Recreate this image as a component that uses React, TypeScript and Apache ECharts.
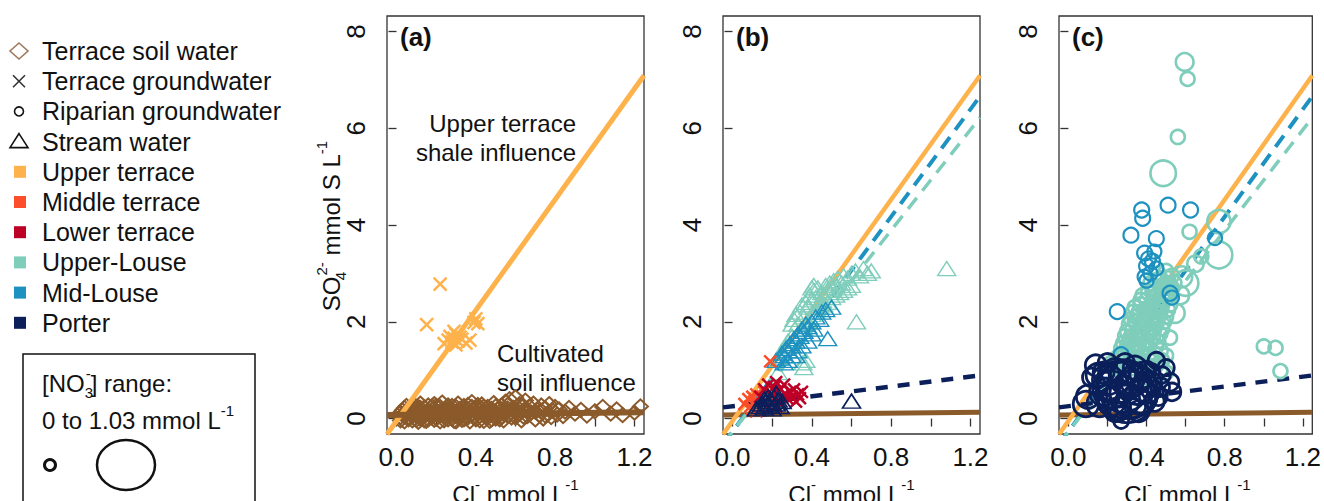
import React, { useEffect, useRef } from 'react';
import * as echarts from 'echarts';

const FONT = 'Liberation Sans, Arial, Helvetica, sans-serif';

// ---- axes ----
const xTickValues = [0, 0.2, 0.4, 0.6, 0.8, 1.0, 1.2];
const xLabelValues = [0, 0.4, 0.8, 1.2];
const yTickValues = [0, 2, 4, 6, 8];
const xRange = [-0.048, 1.248];
const yRange = [-0.32, 8.32];
const panelLabels = ['(a)', '(b)', '(c)'];

// ---- colours ----
const C_SOIL = '#8B5A2B';
const C_UPPER_T = '#FEB24C';
const C_MIDDLE_T = '#FC4E2A';
const C_LOWER_T = '#BD0026';
const C_UPPER_L = '#7FCDBB';
const C_MID_L = '#1D91C0';
const C_PORTER = '#0B1F5A';

// ---- legend ----
const legendLabels = [
  'Terrace soil water',
  'Terrace groundwater',
  'Riparian groundwater',
  'Stream water',
  'Upper terrace',
  'Middle terrace',
  'Lower terrace',
  'Upper-Louse',
  'Mid-Louse',
  'Porter',
];
const legendSymbols = ['diamond', 'cross', 'circle', 'triangle', 'square', 'square', 'square', 'square', 'square', 'square'];
const legendColors = ['#A07A5E', '#333333', '#111111', '#111111', C_UPPER_T, C_MIDDLE_T, C_LOWER_T, C_UPPER_L, C_MID_L, C_PORTER];

// ---- panel (a) data ----
const terraceSoilWater: [number, number][] = [
  [0.02, 0.03], [0.03, 0.17], [0.04, -0.06], [0.05, 0.1], [0.05, 0.26], [0.06, 0.01], [0.07, 0.19], [0.08, -0.04],
  [0.08, 0.12], [0.09, 0.28], [0.1, 0.05], [0.1, 0.2], [0.11, -0.07], [0.12, 0.14], [0.12, 0.31], [0.13, 0.02],
  [0.14, 0.23], [0.15, -0.05], [0.15, 0.11], [0.16, 0.27], [0.17, 0.06], [0.18, 0.18], [0.19, -0.03], [0.19, 0.3],
  [0.2, 0.09], [0.21, 0.22], [0.22, -0.06], [0.23, 0.13], [0.23, 0.33], [0.24, 0.03], [0.25, 0.2], [0.26, -0.02],
  [0.26, 0.27], [0.27, 0.1], [0.28, 0.16], [0.29, -0.05], [0.3, 0.24], [0.3, 0.05], [0.31, 0.31], [0.32, 0.12],
  [0.33, -0.03], [0.34, 0.2], [0.35, 0.07], [0.36, 0.28], [0.37, -0.06], [0.37, 0.14], [0.38, 0.34], [0.39, 0.02],
  [0.4, 0.22], [0.41, 0.1], [0.42, -0.04], [0.43, 0.29], [0.44, 0.16], [0.45, 0.04], [0.46, 0.24], [0.47, -0.05],
  [0.48, 0.12], [0.49, 0.32], [0.5, 0.06], [0.51, 0.19], [0.52, -0.02], [0.53, 0.27], [0.54, 0.1], [0.55, 0.35],
  [0.56, 0.15], [0.57, 0.4], [0.58, 0.02], [0.59, 0.22], [0.6, 0.44], [0.61, 0.08], [0.62, 0.3], [0.63, -0.04],
  [0.64, 0.17], [0.65, 0.37], [0.66, 0.05], [0.67, 0.25], [0.68, 0.12], [0.69, 0.31], [0.7, -0.02], [0.71, 0.18],
  [0.72, 0.07], [0.73, 0.27], [0.74, 0.0], [0.75, 0.21], [0.76, 0.1], [0.77, 0.3], [0.78, 0.03], [0.79, 0.16],
  [0.8, 0.24], [0.81, 0.08], [0.82, 0.19], [0.84, 0.05], [0.85, 0.14], [0.87, 0.22], [0.9, 0.1], [0.93, 0.18],
  [0.96, 0.06], [1.0, 0.15], [1.04, 0.24], [1.08, 0.1], [1.11, 0.19], [1.14, 0.07], [1.2, 0.12], [1.23, 0.25],
  [0.03, 0.08], [0.06, 0.14], [0.09, 0.0], [0.11, 0.24], [0.13, 0.09], [0.16, 0.16], [0.18, 0.04], [0.2, 0.26],
  [0.22, 0.15], [0.24, 0.09], [0.27, 0.22], [0.29, 0.13], [0.32, 0.02], [0.34, 0.26], [0.36, 0.1], [0.39, 0.17],
  [0.41, 0.28], [0.44, 0.07], [0.47, 0.18], [0.5, 0.25], [0.53, 0.04], [0.56, 0.21], [0.6, 0.13], [0.64, 0.26],
  [0.7, 0.14], [0.75, 0.06],
  [0.02, 0.12], [0.02, -0.04], [0.04, 0.22], [0.04, 0.04], [0.06, -0.02], [0.06, 0.2], [0.08, 0.06], [0.08, 0.24],
  [0.1, -0.03], [0.1, 0.13], [0.12, 0.0], [0.12, 0.22], [0.14, 0.06], [0.14, -0.04], [0.16, 0.09], [0.16, -0.02],
  [0.18, 0.12], [0.18, 0.25], [0.2, 0.0], [0.2, 0.16], [0.22, 0.07], [0.22, 0.24], [0.24, -0.04], [0.24, 0.17],
  [0.26, 0.06], [0.26, 0.14], [0.28, 0.0], [0.28, 0.26], [0.3, 0.12], [0.3, -0.06], [0.32, 0.2], [0.32, 0.08],
  [0.34, -0.02], [0.34, 0.12], [0.36, 0.2], [0.36, 0.02], [0.38, 0.08], [0.38, 0.24], [0.4, -0.02], [0.4, 0.12],
  [0.42, 0.18], [0.42, 0.05], [0.44, 0.24], [0.44, -0.05], [0.46, 0.1], [0.46, 0.02], [0.48, 0.2], [0.48, -0.02],
  [0.5, 0.12], [0.5, 0.0], [0.52, 0.08], [0.52, 0.22], [0.54, 0.16], [0.54, -0.04], [0.56, 0.06], [0.56, 0.28],
  [0.58, 0.12], [0.6, 0.02], [0.6, 0.2], [0.62, 0.1], [0.64, 0.04], [0.66, 0.16],
];
const upperTerraceGroundwater: [number, number][] = [
  [0.152, 1.94], [0.22, 2.78], [0.24, 1.55], [0.26, 1.62], [0.27, 1.7], [0.28, 1.58], [0.29, 1.66], [0.3, 1.74],
  [0.31, 1.6], [0.32, 1.68], [0.33, 1.64], [0.35, 1.56], [0.37, 1.62], [0.39, 1.98], [0.4, 2.06], [0.41, 1.96],
  [0.3, 1.52], [0.29, 1.8],
];

// ---- panel (b) data ----
const upperLouseStream: [number, number][] = [
  [0.23, 0.95], [0.3, 1.95], [0.31, 2.05], [0.32, 2.15], [0.33, 1.95], [0.34, 2.2], [0.35, 2.35], [0.36, 2.1],
  [0.37, 2.4], [0.38, 2.3], [0.39, 2.55], [0.4, 2.45], [0.41, 2.65], [0.42, 2.5], [0.43, 2.7], [0.44, 2.4],
  [0.45, 2.6], [0.46, 2.55], [0.47, 2.75], [0.48, 2.65], [0.49, 2.8], [0.5, 2.7], [0.51, 2.85], [0.52, 2.75],
  [0.53, 2.9], [0.55, 2.8], [0.56, 2.95], [0.58, 2.9], [0.6, 3.0], [0.62, 3.05], [0.64, 2.95], [0.66, 3.1],
  [0.68, 3.0], [0.7, 3.05], [0.36, 1.85], [0.38, 2.0], [0.4, 2.15], [0.42, 2.2], [0.44, 2.3], [0.46, 2.35],
  [0.48, 2.4], [0.5, 2.5], [0.52, 2.55], [0.54, 2.6], [0.56, 2.65], [0.58, 2.7], [0.6, 2.75], [0.28, 1.6],
  [0.3, 1.7], [0.25, 1.4], [0.27, 1.5], [0.4, 2.7], [0.41, 2.75], [1.08, 3.1], [0.625, 2.0], [0.355, 1.15],
  [0.36, 1.05], [0.37, 1.2],
];
const midLouseStream: [number, number][] = [
  [0.22, 1.2], [0.24, 1.25], [0.25, 1.35], [0.26, 1.3], [0.27, 1.45], [0.28, 1.4], [0.29, 1.55], [0.3, 1.5],
  [0.31, 1.65], [0.32, 1.6], [0.33, 1.75], [0.34, 1.7], [0.35, 1.85], [0.36, 1.8], [0.37, 1.95], [0.38, 1.9],
  [0.4, 2.0], [0.41, 1.85], [0.42, 2.1], [0.44, 2.05], [0.45, 2.2], [0.47, 2.25], [0.3, 1.3], [0.33, 1.4],
  [0.35, 1.5], [0.38, 1.6], [0.4, 1.75], [0.26, 1.15], [0.48, 1.65], [0.5, 2.3], [0.28, 1.2], [0.32, 1.3],
];
const porterStream: [number, number][] = [
  [0.12, 0.2], [0.14, 0.25], [0.15, 0.3], [0.16, 0.22], [0.17, 0.35], [0.18, 0.28], [0.19, 0.4], [0.2, 0.32],
  [0.21, 0.45], [0.22, 0.3], [0.23, 0.38], [0.24, 0.25], [0.2, 0.2], [0.18, 0.45], [0.25, 0.35], [0.6, 0.36],
  [0.22, 0.52], [0.16, 0.4],
];
const middleTerraceGroundwater: [number, number][] = [
  [0.06, 0.3], [0.08, 0.4], [0.09, 0.25], [0.1, 0.45], [0.11, 0.35], [0.12, 0.5], [0.13, 0.3], [0.14, 0.22],
  [0.15, 0.42], [0.16, 0.55], [0.17, 0.3], [0.19, 1.18], [0.1, 0.2], [0.12, 0.15],
];
const lowerTerraceGroundwater: [number, number][] = [
  [0.16, 0.6], [0.18, 0.7], [0.2, 0.5], [0.21, 0.65], [0.22, 0.75], [0.23, 0.55], [0.24, 0.6], [0.25, 0.45],
  [0.26, 0.7], [0.27, 0.5], [0.28, 0.4], [0.29, 0.55], [0.3, 0.45], [0.31, 0.6], [0.32, 0.35], [0.33, 0.5],
  [0.34, 0.42], [0.35, 0.55], [0.2, 0.35], [0.24, 0.3], [0.14, 0.45], [0.22, 0.25],
];

// ---- panel (c) data: [Cl, SO4, NO3] ----
const upperLouseRiparian: [number, number, number][] = [
  [0.595, 7.37, 0.08], [0.61, 7.02, 0.0], [0.56, 5.82, 0.0], [0.485, 5.07, 0.25], [0.62, 3.86, 0.0],
  [0.77, 4.07, 0.2], [0.77, 3.38, 0.28], [0.68, 3.35, 0.0], [0.58, 2.93, 0.15], [0.6, 2.8, 0.25],
  [0.545, 2.18, 0.12], [0.52, 1.67, 0.0], [1.0, 1.49, 0.0], [1.06, 1.46, 0.0], [1.085, 0.98, 0.0],
  [0.57, 2.55, 0.1], [0.65, 3.2, 0.05],
  [0.24, 1.05, 0.0], [0.27, 1.0, 0.02], [0.3, 1.1, 0.0], [0.33, 1.05, 0.02], [0.36, 1.15, 0.0], [0.39, 1.1, 0.0],
  [0.42, 1.2, 0.02], [0.45, 1.1, 0.0], [0.26, 1.3, 0.0], [0.29, 1.35, 0.02], [0.32, 1.25, 0.0], [0.35, 1.4, 0.0],
  [0.38, 1.3, 0.02], [0.41, 1.45, 0.0], [0.44, 1.35, 0.0], [0.47, 1.4, 0.02], [0.28, 1.55, 0.0], [0.31, 1.6, 0.0],
  [0.34, 1.5, 0.02], [0.37, 1.65, 0.0], [0.4, 1.55, 0.0], [0.43, 1.7, 0.02], [0.46, 1.6, 0.0], [0.3, 1.8, 0.0],
  [0.33, 1.85, 0.02], [0.36, 1.75, 0.0], [0.39, 1.9, 0.0], [0.42, 1.8, 0.02], [0.45, 1.95, 0.0], [0.48, 1.85, 0.0],
  [0.32, 2.05, 0.0], [0.35, 2.1, 0.02], [0.38, 2.0, 0.0], [0.41, 2.15, 0.0], [0.44, 2.05, 0.02], [0.47, 2.2, 0.0],
  [0.5, 2.1, 0.0], [0.34, 2.3, 0.0], [0.37, 2.35, 0.02], [0.4, 2.25, 0.0], [0.43, 2.4, 0.0], [0.46, 2.3, 0.02],
  [0.49, 2.45, 0.0], [0.52, 2.35, 0.0], [0.38, 2.55, 0.0], [0.41, 2.6, 0.02], [0.44, 2.5, 0.0], [0.47, 2.65, 0.0],
  [0.5, 2.55, 0.02], [0.53, 2.7, 0.0], [0.42, 2.8, 0.0], [0.45, 2.85, 0.02], [0.48, 2.75, 0.0], [0.51, 2.9, 0.0],
  [0.54, 2.8, 0.02], [0.46, 3.0, 0.0], [0.5, 3.05, 0.0], [0.4, 0.85, 0.0], [0.45, 0.8, 0.02], [0.5, 0.95, 0.0],
  [0.35, 0.9, 0.0], [0.22, 1.15, 0.0], [0.25, 1.25, 0.02], [0.28, 0.9, 0.0],
  [0.26, 1.1, 0.0], [0.29, 1.2, 0.0], [0.32, 1.15, 0.0], [0.35, 1.25, 0.0], [0.38, 1.2, 0.0], [0.41, 1.3, 0.0],
  [0.44, 1.25, 0.0], [0.27, 1.45, 0.0], [0.3, 1.5, 0.0], [0.33, 1.4, 0.0], [0.36, 1.55, 0.0], [0.39, 1.45, 0.0],
  [0.42, 1.6, 0.0], [0.45, 1.5, 0.0], [0.29, 1.7, 0.0], [0.32, 1.7, 0.0], [0.35, 1.65, 0.0], [0.38, 1.8, 0.0],
  [0.41, 1.7, 0.0], [0.44, 1.85, 0.0], [0.47, 1.75, 0.0], [0.31, 1.95, 0.0], [0.34, 2.0, 0.0], [0.37, 1.9, 0.0],
  [0.4, 2.05, 0.0], [0.43, 1.95, 0.0], [0.46, 2.1, 0.0], [0.49, 2.0, 0.0], [0.33, 2.2, 0.0], [0.36, 2.2, 0.0],
  [0.39, 2.15, 0.0], [0.42, 2.3, 0.0], [0.45, 2.2, 0.0], [0.48, 2.35, 0.0], [0.51, 2.25, 0.0], [0.37, 2.45, 0.0],
  [0.4, 2.45, 0.0], [0.43, 2.6, 0.0], [0.46, 2.45, 0.0], [0.49, 2.6, 0.0], [0.52, 2.5, 0.0], [0.44, 2.7, 0.0],
  [0.47, 2.9, 0.0], [0.5, 2.8, 0.0], [0.53, 2.95, 0.0], [0.43, 1.05, 0.0], [0.47, 1.0, 0.0], [0.48, 1.2, 0.0],
  [0.5, 1.3, 0.0], [0.38, 0.95, 0.0],
];
const midLouseRiparian: [number, number, number][] = [
  [0.375, 4.31, 0.02], [0.38, 4.14, 0.02], [0.51, 4.41, 0.02], [0.625, 4.31, 0.02], [0.32, 3.79, 0.02],
  [0.45, 3.72, 0.02], [0.39, 3.42, 0.02], [0.41, 3.3, 0.02], [0.4, 3.15, 0.02], [0.43, 3.25, 0.02],
  [0.45, 3.1, 0.0], [0.42, 3.0, 0.0], [0.39, 2.93, 0.0], [0.4, 2.85, 0.0], [0.25, 2.21, 0.02],
  [0.52, 2.59, 0.02], [0.53, 2.5, 0.0], [0.75, 3.73, 0.0], [0.27, 1.32, 0.02], [0.44, 3.45, 0.0],
];
const porterRiparian: [number, number, number][] = [
  [0.3, 0.55, 1.03], [0.28, 0.65, 0.8], [0.33, 0.5, 0.7], [0.25, 0.75, 0.6], [0.35, 0.7, 0.55], [0.22, 0.6, 0.5],
  [0.3, 0.85, 0.45], [0.37, 0.45, 0.4], [0.27, 0.4, 0.5], [0.2, 0.8, 0.35], [0.32, 0.3, 0.35], [0.24, 0.95, 0.3],
  [0.38, 0.9, 0.25], [0.18, 0.55, 0.3], [0.4, 0.6, 0.3], [0.15, 0.9, 0.2], [0.42, 0.75, 0.15], [0.26, 0.2, 0.2],
  [0.34, 1.05, 0.2], [0.45, 1.2, 0.05], [0.48, 0.9, 0.05], [0.5, 1.05, 0.05], [0.52, 0.75, 0.08], [0.53, 0.55, 0.08],
  [0.47, 0.65, 0.1], [0.27, -0.05, 0.02], [0.1, 0.45, 0.2], [0.14, 1.1, 0.15], [0.12, 0.85, 0.1], [0.2, 1.15, 0.1],
  [0.36, 0.15, 0.15], [0.44, 0.35, 0.12], [0.16, 0.3, 0.25], [0.29, 1.15, 0.1], [0.4, 1.0, 0.08],
  [0.22, 0.35, 0.3], [0.34, 0.8, 0.35], [0.26, 0.5, 0.25], [0.38, 0.6, 0.2], [0.31, 0.7, 0.3], [0.2, 0.45, 0.2],
  [0.36, 0.35, 0.25], [0.28, 0.95, 0.25], [0.24, 0.15, 0.15], [0.42, 0.95, 0.1], [0.18, 0.95, 0.15],
  [0.46, 0.45, 0.08], [0.09, 0.3, 0.25],
];

// ---- mixing / regression lines (end points at the plot edges) ----
const upperTerraceLine: [number, number][] = [[-0.048, -0.325], [1.248, 7.09]];
const midLouseLine: [number, number][] = [[-0.048, -0.536], [1.248, 6.66]];
const upperLouseLine: [number, number][] = [[-0.048, -0.52], [1.248, 6.22]];
const porterLine: [number, number][] = [[-0.048, 0.23], [1.248, 0.89]];
const soilLine: [number, number][] = [[-0.048, 0.075], [1.248, 0.13]];

// ---- layout ----
const gridLefts = [387, 723, 1059];
const GRID_TOP = 16;
const GRID_W = 257;
const GRID_H = 418;

const CROSS = 'path://M0,0L10,10M10,0L0,10';

function scatter(g: number, data: any[], symbol: string, size: any, color: string, bw: number, z = 3) {
  return {
    type: 'scatter',
    xAxisIndex: g,
    yAxisIndex: g,
    data,
    symbol,
    symbolSize: size,
    silent: true,
    z,
    itemStyle: { color: 'rgba(0,0,0,0)', borderColor: color, borderWidth: bw, opacity: 1 },
  };
}

function line(g: number, data: [number, number][], color: string, width: number, type: any, z = 2) {
  return {
    type: 'line',
    xAxisIndex: g,
    yAxisIndex: g,
    data,
    symbol: 'none',
    showSymbol: false,
    silent: true,
    z,
    lineStyle: { color, width, type },
  };
}

const sizeByNitrate = (v: number[]) => 14 + v[2] * 46;

export default function App() {
  const ref = useRef<HTMLDivElement>(null);

  useEffect(() => {
    if (!ref.current) return;
    const chart = echarts.init(ref.current, null, { renderer: 'svg' });

    const grids = gridLefts.map((l) => ({
      left: l,
      top: GRID_TOP,
      width: GRID_W,
      height: GRID_H,
      show: true,
      borderColor: '#333',
      borderWidth: 1.3,
      backgroundColor: 'transparent',
    }));

    const xAxes = gridLefts.map((_, i) => ({
      type: 'value',
      gridIndex: i,
      min: xRange[0],
      max: xRange[1],
      axisLine: { show: false },
      splitLine: { show: false },
      axisTick: { show: true, customValues: xTickValues, length: 8, lineStyle: { color: '#333', width: 1.3 } },
      axisLabel: {
        customValues: xLabelValues,
        formatter: (v: number) => v.toFixed(1),
        fontSize: 26,
        fontFamily: FONT,
        color: '#111',
        margin: 10,
      },
    }));

    const yAxes = gridLefts.map((_, i) => ({
      type: 'value',
      gridIndex: i,
      min: yRange[0],
      max: yRange[1],
      axisLine: { show: false },
      splitLine: { show: false },
      axisTick: { show: true, customValues: yTickValues, length: 8, lineStyle: { color: '#333', width: 1.3 } },
      axisLabel: {
        customValues: yTickValues,
        formatter: (v: number) => String(v),
        rotate: 90,
        fontSize: 26,
        fontFamily: FONT,
        color: '#111',
        margin: 18,
      },
    }));

    const series: any[] = [
      // panel a
      scatter(0, terraceSoilWater, 'diamond', [15, 14], C_SOIL, 2, 3),
      line(0, upperTerraceLine, C_UPPER_T, 5, 'solid', 4),
      line(0, soilLine, C_SOIL, 6, 'solid', 4),
      scatter(0, upperTerraceGroundwater, CROSS, 13, C_UPPER_T, 2.5, 5),
      // panel b
      line(1, soilLine, C_SOIL, 5, 'solid', 2),
      line(1, upperTerraceLine, C_UPPER_T, 4.5, 'solid', 2),
      line(1, midLouseLine, C_MID_L, 4, [14, 9], 2),
      line(1, upperLouseLine, C_UPPER_L, 3.5, [14, 9], 2),
      line(1, porterLine, C_PORTER, 4.5, [12, 10], 2),
      scatter(1, upperLouseStream, 'triangle', [18, 14], C_UPPER_L, 1.4, 3),
      scatter(1, midLouseStream, 'triangle', [18, 14], C_MID_L, 1.4, 4),
      scatter(1, middleTerraceGroundwater, CROSS, 12, C_MIDDLE_T, 2.5, 5),
      scatter(1, lowerTerraceGroundwater, CROSS, 12, C_LOWER_T, 2.5, 5),
      scatter(1, porterStream, 'triangle', [18, 14], C_PORTER, 1.6, 6),
      // panel c
      line(2, soilLine, C_SOIL, 5, 'solid', 2),
      line(2, upperTerraceLine, C_UPPER_T, 4.5, 'solid', 2),
      line(2, midLouseLine, C_MID_L, 4, [14, 9], 2),
      line(2, upperLouseLine, C_UPPER_L, 3.5, [14, 9], 2),
      line(2, porterLine, C_PORTER, 4.5, [12, 10], 2),
      scatter(2, upperLouseRiparian, 'circle', sizeByNitrate, C_UPPER_L, 2.6, 3),
      scatter(2, midLouseRiparian, 'circle', sizeByNitrate, C_MID_L, 2.2, 4),
      scatter(2, porterRiparian, 'circle', sizeByNitrate, C_PORTER, 2.8, 5),
    ];

    const rich = {
      sup: { fontSize: 15, fontFamily: FONT, fill: '#111', verticalAlign: 'top', lineHeight: 34 },
      sub: { fontSize: 15, fontFamily: FONT, fill: '#111', verticalAlign: 'bottom', lineHeight: 34 },
      subS: { fontSize: 15, fontFamily: FONT, fill: '#111', verticalAlign: 'bottom', lineHeight: 34, width: 1 },
    };

    const graphics: any[] = [];

    // legend
    legendLabels.forEach((label, i) => {
      const y = 51 + i * 30.2;
      const col = legendColors[i];
      const s = legendSymbols[i];
      if (s === 'diamond') {
        graphics.push({ type: 'polygon', shape: { points: [[19, y - 8], [28, y], [19, y + 8], [10, y]] }, style: { fill: 'none', stroke: col, lineWidth: 1.6 } });
      } else if (s === 'cross') {
        graphics.push({ type: 'line', shape: { x1: 13, y1: y - 6, x2: 25, y2: y + 6 }, style: { stroke: col, lineWidth: 1.6 } });
        graphics.push({ type: 'line', shape: { x1: 13, y1: y + 6, x2: 25, y2: y - 6 }, style: { stroke: col, lineWidth: 1.6 } });
      } else if (s === 'circle') {
        graphics.push({ type: 'circle', shape: { cx: 19, cy: y, r: 4.5 }, style: { fill: 'none', stroke: col, lineWidth: 1.6 } });
      } else if (s === 'triangle') {
        graphics.push({ type: 'polygon', shape: { points: [[19, y - 8], [28, y + 6], [10, y + 6]] }, style: { fill: 'none', stroke: col, lineWidth: 1.6 } });
      } else {
        graphics.push({ type: 'rect', shape: { x: 14, y: y - 6, width: 12, height: 12 }, style: { fill: col } });
      }
      graphics.push({
        type: 'text',
        x: 42,
        y,
        style: { text: label, fontSize: 25, fontFamily: FONT, fill: '#111', textAlign: 'left', verticalAlign: 'middle' },
      });
    });

    // nitrate size legend box
    graphics.push({ type: 'rect', shape: { x: 23, y: 354, width: 232, height: 170 }, style: { fill: 'none', stroke: '#111', lineWidth: 1.5 } });
    graphics.push({
      type: 'text', x: 42, y: 383,
      style: { text: '[NO{subS|3}{sup|-}] range:', rich, fontSize: 24, fontFamily: FONT, fill: '#111', lineHeight: 34, verticalAlign: 'middle', textAlign: 'left' },
    });
    graphics.push({
      type: 'text', x: 42, y: 420,
      style: { text: '0 to 1.03 mmol L{sup|-1}', rich, fontSize: 24, fontFamily: FONT, fill: '#111', lineHeight: 34, verticalAlign: 'middle', textAlign: 'left' },
    });
    graphics.push({ type: 'circle', shape: { cx: 50, cy: 465, r: 5.5 }, style: { fill: 'none', stroke: '#111', lineWidth: 3 } });
    graphics.push({ type: 'ellipse', shape: { cx: 126, cy: 465, rx: 29, ry: 25 }, style: { fill: 'none', stroke: '#111', lineWidth: 2.5 } });

    // y axis title
    graphics.push({
      type: 'text', x: 331, y: 226, rotation: Math.PI / 2,
      style: { text: 'SO{subS|4}{sup|2-} mmol S L{sup|-1}', rich, fontSize: 24, fontFamily: FONT, fill: '#111', lineHeight: 34, verticalAlign: 'middle', textAlign: 'center' },
    });

    // x axis titles & panel labels
    gridLefts.forEach((l, i) => {
      graphics.push({
        type: 'text', x: l + GRID_W / 2, y: 494,
        style: { text: 'Cl{sup|-} mmol L{sup|-1}', rich, fontSize: 24, fontFamily: FONT, fill: '#111', lineHeight: 34, textAlign: 'center', verticalAlign: 'middle' },
      });
      graphics.push({
        type: 'text', x: l + 13, y: 37,
        style: { text: panelLabels[i], fontSize: 26, fontWeight: 'bold', fontFamily: FONT, fill: '#111', textAlign: 'left', verticalAlign: 'middle' },
      });
    });

    // panel (a) annotations
    const ann = (text: string, x: number, y: number, align: string) => ({
      type: 'text', x, y,
      style: { text, fontSize: 24, fontFamily: FONT, fill: '#111', textAlign: align, verticalAlign: 'middle' },
    });
    graphics.push(ann('Upper terrace', 576, 123, 'right'));
    graphics.push(ann('shale influence', 576, 152, 'right'));
    graphics.push(ann('Cultivated', 497, 353, 'left'));
    graphics.push(ann('soil influence', 497, 382, 'left'));

    chart.setOption({
      animation: false,
      backgroundColor: '#ffffff',
      textStyle: { fontFamily: FONT },
      grid: grids,
      xAxis: xAxes,
      yAxis: yAxes,
      series,
      graphic: { elements: graphics },
    });

    return () => chart.dispose();
  }, []);

  return <div ref={ref} style={{ position: 'fixed', left: 0, top: 0, width: 1324, height: 501 }} />;
}
